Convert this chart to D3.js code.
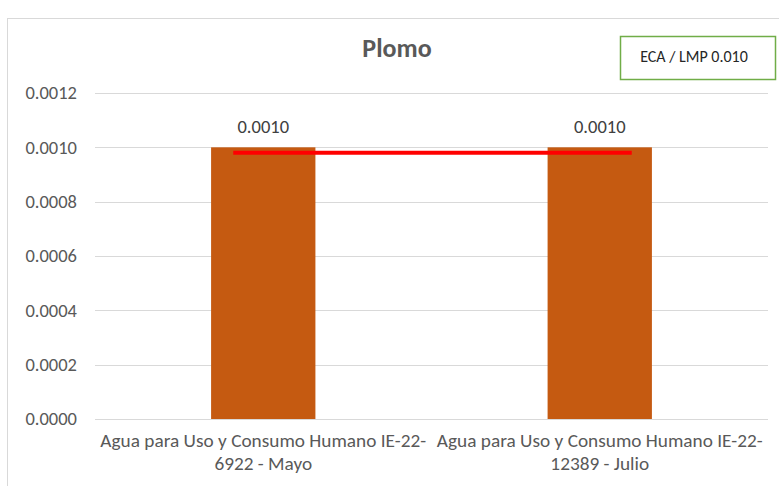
<!DOCTYPE html>
<html>
<head>
<meta charset="utf-8">
<script src="https://cdn.jsdelivr.net/npm/d3@7"></script>
<style>
  body { margin: 0; background: #fff; }
  svg text { font-family: Carlito, Calibri, "Liberation Sans Narrow", "Liberation Sans", sans-serif; }
</style>
</head>
<body>
<div id="chart"></div>
<script>
// Chart data
var categories = [
  ["Agua para Uso y Consumo Humano IE-22-", "6922 - Mayo"],
  ["Agua para Uso y Consumo Humano IE-22-", "12389 - Julio"]
];
var values = [0.0010, 0.0010];
var limitValues = [0.00098, 0.00098];
var yTicks = [0, 0.0002, 0.0004, 0.0006, 0.0008, 0.0010, 0.0012];
var chartTitle = "Plomo";
var legendLabel = "ECA / LMP 0.010";

var svgWidth = 779;
var svgHeight = 486;

var margin = { top: 93, right: 11, bottom: 67, left: 95 };
var width = svgWidth - margin.left - margin.right;
var height = svgHeight - margin.top - margin.bottom;

var svg = d3.select("#chart")
  .append("svg")
  .attr("width", svgWidth)
  .attr("height", svgHeight);

// outer frame
svg.append("rect")
  .attr("x", 7.5)
  .attr("y", 18.5)
  .attr("width", 800)
  .attr("height", 500)
  .attr("fill", "none")
  .attr("stroke", "#d9d9d9");

var chartGroup = svg.append("g")
  .attr("transform", `translate(${margin.left}, ${margin.top})`);

var xScale = d3.scaleBand()
  .domain(d3.range(categories.length))
  .range([0, width])
  .paddingInner(0.69)
  .paddingOuter(0.345);

var xCenter = d3.scaleBand()
  .domain(d3.range(categories.length))
  .range([0, width]);

var yScale = d3.scaleLinear()
  .domain([0, 0.0012])
  .range([height, 0]);

// gridlines
chartGroup.selectAll(".grid")
  .data(yTicks)
  .enter()
  .append("line")
  .attr("x1", 0)
  .attr("x2", width)
  .attr("y1", d => Math.round(yScale(d)) + 0.5)
  .attr("y2", d => Math.round(yScale(d)) + 0.5)
  .attr("stroke", "#d9d9d9")
  .attr("stroke-width", 1);

// y axis
var leftAxis = d3.axisLeft(yScale)
  .tickValues(yTicks)
  .tickFormat(d3.format(".4f"))
  .tickSize(0)
  .tickPadding(18);

var yAxis = chartGroup.append("g").call(leftAxis);
yAxis.select(".domain").remove();
yAxis.selectAll("text")
  .attr("fill", "#595959")
  .style("font-size", "18.5px");

// bars
chartGroup.selectAll(".bar")
  .data(values)
  .enter()
  .append("rect")
  .attr("x", (d, i) => xScale(i))
  .attr("width", xScale.bandwidth())
  .attr("y", d => yScale(d))
  .attr("height", d => height - yScale(d))
  .attr("fill", "#c55a11");

// data labels
chartGroup.selectAll(".lbl")
  .data(values)
  .enter()
  .append("text")
  .attr("x", (d, i) => xScale(i) + xScale.bandwidth() / 2)
  .attr("y", d => yScale(d) - 14)
  .attr("text-anchor", "middle")
  .attr("fill", "#404040")
  .style("font-size", "18.5px")
  .text(d => d3.format(".4f")(d));

// limit line
var lineExt = [
  [xCenter(0) + xCenter.bandwidth() / 2 - 30, limitValues[0]],
  [xCenter(1) + xCenter.bandwidth() / 2 + 32, limitValues[1]]
];
chartGroup.append("path")
  .datum(lineExt)
  .attr("d", d3.line().x(d => d[0]).y(d => yScale(d[1])))
  .attr("stroke", "#ff0000")
  .attr("stroke-width", 4)
  .attr("fill", "none");

// x labels
categories.forEach(function(lines, i) {
  var t = chartGroup.append("text")
    .attr("x", xCenter(i) + xCenter.bandwidth() / 2)
    .attr("y", height + 28)
    .attr("text-anchor", "middle")
    .attr("fill", "#595959")
    .style("font-size", "19.3px");
  lines.forEach(function(line, j) {
    t.append("tspan")
      .attr("x", xCenter(i) + xCenter.bandwidth() / 2)
      .attr("dy", j === 0 ? 0 : 23)
      .text(line);
  });
});

// title
svg.append("text")
  .attr("x", 397)
  .attr("y", 57)
  .attr("text-anchor", "middle")
  .attr("fill", "#595959")
  .style("font-size", "26px")
  .style("font-weight", "bold")
  .text(chartTitle);

// legend box
svg.append("rect")
  .attr("x", 620.5)
  .attr("y", 36.5)
  .attr("width", 155)
  .attr("height", 43)
  .attr("fill", "#fff")
  .attr("stroke", "#70ad47")
  .attr("stroke-width", 1.5);

svg.append("text")
  .attr("x", 694)
  .attr("y", 62)
  .attr("text-anchor", "middle")
  .attr("fill", "#262626")
  .style("font-size", "16px")
  .text(legendLabel);
</script>
</body>
</html>
